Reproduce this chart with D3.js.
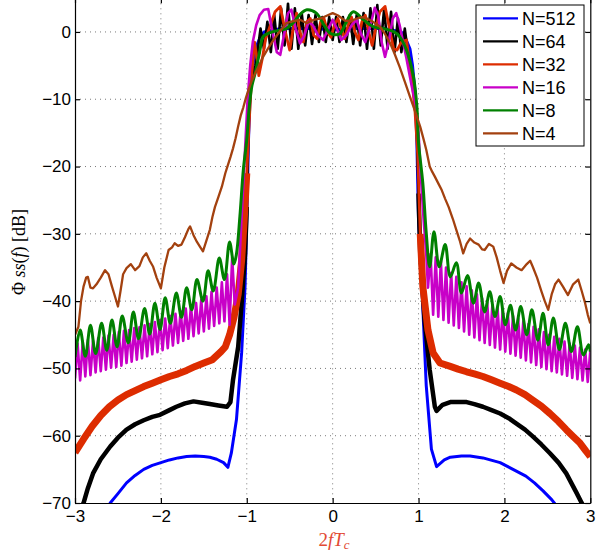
<!DOCTYPE html>
<html>
<head>
<meta charset="utf-8">
<script src="https://cdn.jsdelivr.net/npm/d3@7"></script>
<style>
  body { margin: 0; background: #fff; }
  svg { display: block; font-family: "Liberation Sans", Arial, sans-serif; }
  .grid line { stroke: #7a7a7a; stroke-width: 1; stroke-dasharray: 1,4; }
  .axis path, .axis line { stroke: #000; stroke-width: 1.2; }
  .axis text { font-size: 17px; fill: #000; }
</style>
</head>
<body>
<svg id="chart"></svg>
<script>
// ------------------------------------------------------------
// Power spectra of the spread signal for several values of N.
// Values as [2fTc, dB] pairs.
// ------------------------------------------------------------

const xTicks = [-3, -2, -1, 0, 1, 2, 3];
const yTicks = [-70, -60, -50, -40, -30, -20, -10, 0];
const seriesNames = ["N=512", "N=64", "N=32", "N=16", "N=8", "N=4"];
const seriesColors = ["#0000ff", "#000000", "#dd2c00", "#c800c8", "#008000", "#a3410f"];

const n512 = [
  [-2.63, -71], [-2.59, -70], [-2.5, -68.6], [-2.4, -67], [-2.3, -65.9], [-2.2, -65],
  [-2.1, -64.4], [-2.0, -64], [-1.9, -63.6], [-1.8, -63.3], [-1.7, -63.1], [-1.6, -63],
  [-1.5, -63.1], [-1.43, -63.2], [-1.35, -63.5], [-1.27, -64], [-1.22, -64.7],
  [-1.18, -62.6], [-1.12, -57.6], [-1.06, -47.7], [-1.02, -37.8], [-1.0, -28],
  [-0.98, -16], [-0.96, -9], [-0.93, -5], [-0.9, -2.5], [-0.85, -1], [-0.8, 0],
  [-0.6, 0.5], [-0.4, 0.5], [-0.2, 0.5], [0, 0.3], [0.2, 0.5], [0.4, 0.5], [0.6, 0.5],
  [0.8, 0], [0.85, -1], [0.9, -2.5], [0.93, -5], [0.96, -9], [0.98, -16], [1.0, -28],
  [1.04, -38], [1.09, -52.6], [1.15, -62], [1.21, -64.6], [1.3, -63.6], [1.37, -63.2],
  [1.5, -63], [1.6, -63], [1.75, -63.3], [1.95, -64], [2.1, -65], [2.25, -66],
  [2.35, -67], [2.45, -68.2], [2.55, -69.5], [2.6, -70.3], [2.63, -71]
];

const n64 = [
  [-2.95, -71], [-2.9, -70], [-2.85, -67.8], [-2.79, -65.6], [-2.7, -63.5], [-2.59, -61.6],
  [-2.5, -60.3], [-2.4, -59.1], [-2.3, -58.3], [-2.2, -57.7], [-2.1, -57.2], [-2.01, -56.9],
  [-1.9, -56.2], [-1.82, -55.7], [-1.72, -55.2], [-1.62, -54.9], [-1.52, -55.1],
  [-1.43, -55.3], [-1.33, -55.5], [-1.23, -55.7], [-1.19, -55], [-1.16, -51.7],
  [-1.1, -46.8], [-1.06, -40.3], [-1.02, -32.9], [-1.0, -26], [-0.98, -14], [-0.96, -9],
  [-0.93, -6.5], [-0.9, -5], [-0.88, -3.5], [-0.84, 0.5], [-0.8, -2.5], [-0.76, 1.5],
  [-0.72, -3], [-0.68, 2.5], [-0.64, -2.5], [-0.6, 3.5], [-0.56, -2], [-0.52, 4.2],
  [-0.48, -2.5], [-0.44, 3.5], [-0.4, -2.5], [-0.36, 2.8], [-0.32, -2], [-0.28, 2.5],
  [-0.24, -1.8], [-0.2, 2.5], [-0.16, -1.5], [-0.12, 2.2], [-0.08, -1.5], [-0.04, 2.2],
  [0, -1.2], [0.04, 2.2], [0.08, -1.5], [0.12, 2.2], [0.16, -1.5], [0.2, 2.5], [0.24, -1.8],
  [0.28, 2.5], [0.32, -2], [0.36, 2.8], [0.4, -2.5], [0.44, 3.5], [0.48, -2.5], [0.52, 4],
  [0.56, -2], [0.6, 3.5], [0.64, -2.5], [0.68, 3], [0.72, -3], [0.76, 2], [0.8, -3],
  [0.84, 0.5], [0.88, -3.5], [0.9, -5], [0.93, -6.5], [0.96, -9], [0.98, -14], [1.0, -24],
  [1.02, -32.9], [1.07, -42.8], [1.13, -50.2], [1.19, -55.7], [1.21, -56.3], [1.28, -55.4],
  [1.37, -55], [1.47, -55], [1.56, -55], [1.65, -55.3], [1.75, -55.7], [1.85, -56.2],
  [1.95, -56.7], [2.05, -57.4], [2.14, -58.2], [2.24, -59.1], [2.33, -60.1], [2.43, -61.3],
  [2.53, -62.6], [2.63, -64], [2.72, -65.6], [2.84, -68.5], [2.9, -70], [2.95, -71]
];

const n32 = [
  [-3, -62.5], [-2.9, -60.5], [-2.8, -58.6], [-2.7, -57], [-2.6, -55.7], [-2.5, -54.7],
  [-2.4, -53.9], [-2.3, -53.3], [-2.2, -52.7], [-2.1, -52.2], [-2.0, -51.7], [-1.9, -51.2],
  [-1.8, -50.8], [-1.7, -50.3], [-1.6, -49.7], [-1.5, -49.2], [-1.4, -48.7], [-1.3, -47.5],
  [-1.25, -46.8], [-1.2, -45], [-1.15, -42.5], [-1.1, -39], [-1.06, -34], [-1.03, -28],
  [-1.0, -21], [-0.97, -13], [-0.94, -6], [-0.91, -1.5], [-0.88, -4], [-0.86, -6.5],
  [-0.82, -4], [-0.78, -1], [-0.73, 0.8], [-0.67, 3], [-0.61, 3.8], [-0.55, 0], [-0.5, -2.7],
  [-0.46, 0.5], [-0.42, 2.8], [-0.38, 0], [-0.34, -1.5], [-0.3, 1.5], [-0.26, 2],
  [-0.22, -0.5], [-0.18, -1], [-0.14, 1.5], [-0.1, 2], [-0.06, 0], [-0.02, -0.8], [0.02, 1],
  [0.06, 2], [0.1, 0.5], [0.14, -1], [0.18, 1], [0.22, 2.2], [0.26, 0], [0.3, -1.2],
  [0.34, 1.5], [0.38, 2.5], [0.42, 0], [0.46, -2], [0.5, 0.5], [0.55, 3], [0.61, 3.8],
  [0.67, 0], [0.71, -2.5], [0.75, -2.7], [0.8, -1.5], [0.86, -1.2], [0.9, -5.2], [0.93, -8],
  [0.96, -12], [0.99, -18], [1.02, -30], [1.05, -37.8], [1.11, -44.3], [1.17, -47.7],
  [1.25, -49.2], [1.37, -49.7], [1.46, -50.1], [1.56, -50.5], [1.65, -50.8], [1.75, -51.2],
  [1.85, -51.7], [1.95, -52.2], [2.05, -52.7], [2.14, -53.2], [2.24, -53.9], [2.33, -54.7],
  [2.43, -55.6], [2.53, -56.7], [2.63, -57.9], [2.72, -59.1], [2.8, -60.1], [2.88, -61.1],
  [2.95, -62.3], [3.0, -63.1]
];

// N=16 side lobes: read every 0.03 in 2fTc (alternating trough / peak)
const n16LeftStart = -3.0;
const n16Left = [
  -51.5, -46.3, -51.8, -46.0, -51.2, -45.8, -51.0, -45.9, -50.6, -45.5, -50.4, -45.4,
  -50.2, -45.1, -49.9, -45.0, -49.8, -44.6, -49.6, -44.4, -49.2, -44.3, -49.0, -44.0,
  -48.7, -43.9, -48.5, -43.6, -48.2, -43.4, -47.9, -43.1, -47.6, -42.8, -47.3, -42.6,
  -47.0, -42.2, -46.6, -41.9, -46.2, -41.5, -45.9, -41.1, -45.6, -40.7, -45.2, -40.3,
  -44.8, -39.8, -44.5, -39.3, -44.1, -38.6, -43.7, -38.0, -43.3, -37.2, -43.0, -36.0,
  -43.5, -33.5, -40.5
];
const n16Main = [
  [-1.1, -38], [-1.07, -30], [-1.04, -22.5], [-1.02, -17.5], [-0.99, -10], [-0.96, -5],
  [-0.93, -1.5], [-0.89, 1], [-0.85, 2.5], [-0.8, 3.3], [-0.75, 3.4], [-0.7, 0], [-0.65, -3],
  [-0.61, -3.4], [-0.56, 0], [-0.52, 2.8], [-0.48, 3.3], [-0.43, 0.5], [-0.38, -1.7],
  [-0.33, -0.5], [-0.28, 1.5], [-0.23, 1], [-0.17, -0.5], [-0.11, -1.2], [-0.05, 0.5],
  [0, 1.8], [0.05, 0.5], [0.1, -1.2], [0.16, -0.5], [0.22, 1], [0.28, 1.8], [0.33, -0.3],
  [0.38, -1.5], [0.43, 0.5], [0.49, 3.6], [0.53, 2.5], [0.57, -1.5], [0.61, -3.7],
  [0.66, -1], [0.7, 2], [0.74, 2.8], [0.78, 1], [0.82, -1.5], [0.86, -4], [0.92, -8],
  [0.97, -11], [1.0, -15], [1.03, -22], [1.06, -28], [1.09, -33], [1.11, -38]
];
const n16RightStart = 1.14;
const n16Right = [
  -33.0, -42.0, -33.5, -42.3, -34.0, -42.8, -35.0, -43.2, -35.8, -43.6, -36.4, -44.0,
  -37.2, -44.5, -37.8, -45.0, -38.4, -45.4, -39.0, -45.8, -39.6, -46.2, -40.2, -46.5,
  -40.6, -46.9, -41.0, -47.2, -41.4, -47.5, -41.8, -47.8, -42.2, -48.1, -42.6, -48.4,
  -43.0, -48.8, -43.4, -49.1, -43.8, -49.5, -44.2, -49.8, -44.6, -50.1, -45.0, -50.4,
  -45.3, -50.6, -45.6, -50.9, -46.0, -51.1, -46.3, -51.4, -46.6, -51.6, -46.9, -51.8,
  -47.2, -52.0, -47.4
];
const n16Step = 0.03;

const n8 = [
  [-3.0, -48.3], [-2.94, -44.3], [-2.88, -48.2], [-2.82, -43.6], [-2.76, -47.8],
  [-2.69, -43.3], [-2.63, -47.3], [-2.57, -42.8], [-2.51, -46.8], [-2.45, -42.2],
  [-2.38, -46.2], [-2.32, -41.6], [-2.26, -45.6], [-2.19, -41.1], [-2.13, -44.9],
  [-2.07, -40.3], [-2.01, -44.2], [-1.95, -39.5], [-1.89, -43.3], [-1.82, -38.8],
  [-1.76, -42.4], [-1.7, -38.0], [-1.64, -41.3], [-1.58, -36.8], [-1.51, -40.0],
  [-1.45, -35.5], [-1.39, -38.5], [-1.32, -33.6], [-1.26, -36.8], [-1.2, -31.2],
  [-1.15, -34.5], [-1.12, -33], [-1.08, -27.4], [-1.04, -20.5], [-1.0, -16], [-0.97, -11],
  [-0.94, -8], [-0.9, -6], [-0.85, -3], [-0.81, -0.7], [-0.75, -0.2], [-0.69, 0.05],
  [-0.6, 0.3], [-0.54, 0.5], [-0.45, 1.5], [-0.38, 2.6], [-0.3, 3.3], [-0.19, 2.8],
  [-0.1, 1], [-0.03, -0.2], [0.04, -0.4], [0.09, -0.2], [0.16, 1.5], [0.24, 3.0],
  [0.36, 1.8], [0.47, 0.8], [0.59, 0.5], [0.71, 0.05], [0.78, -0.7], [0.86, -2.7],
  [0.94, -6.6], [0.98, -11], [1.0, -16.5], [1.05, -22.5], [1.09, -29.9], [1.13, -34.9],
  [1.18, -29.7], [1.24, -34.9], [1.31, -31.6], [1.37, -36.4], [1.44, -34.3], [1.5, -38.8],
  [1.57, -36.2], [1.64, -40.3], [1.7, -37.3], [1.77, -41.6], [1.83, -38.6], [1.89, -42.3],
  [1.95, -39.3], [2.01, -43.5], [2.07, -40.6], [2.13, -44.3], [2.19, -40.8], [2.26, -45],
  [2.32, -41.3], [2.39, -45.8], [2.45, -41.8], [2.51, -46.5], [2.57, -42.5], [2.64, -47.2],
  [2.71, -43.3], [2.78, -47.5], [2.85, -43.8], [2.92, -48], [2.98, -46.5], [3.0, -47.5]
];

const n4 = [
  [-3.0, -45], [-2.96, -43.8], [-2.93, -40], [-2.9, -37.8], [-2.87, -36.5], [-2.85, -36.4],
  [-2.82, -38], [-2.79, -38.1], [-2.75, -37.5], [-2.7, -36.5], [-2.65, -35.4], [-2.61, -36],
  [-2.57, -37.8], [-2.53, -39.5], [-2.5, -40.8], [-2.47, -38.5], [-2.44, -36], [-2.4, -35.1],
  [-2.35, -34.5], [-2.3, -35.4], [-2.25, -34.8], [-2.21, -33.5], [-2.17, -32.9], [-2.13, -34],
  [-2.09, -34.9], [-2.05, -36.5], [-2.0, -38.1], [-1.96, -35], [-1.91, -32.4], [-1.87, -32],
  [-1.84, -31.4], [-1.8, -31.8], [-1.76, -31.6], [-1.72, -30.5], [-1.68, -29.3],
  [-1.66, -28.9], [-1.62, -30.2], [-1.58, -31.2], [-1.54, -32], [-1.51, -32.6], [-1.47, -31],
  [-1.43, -29.4], [-1.4, -27.5], [-1.37, -26], [-1.33, -24.5], [-1.29, -23], [-1.25, -21],
  [-1.22, -19.8], [-1.19, -18.6], [-1.16, -17.3], [-1.13, -15.8], [-1.1, -14], [-1.07, -12.4],
  [-1.04, -11.2], [-1.01, -9.8], [-0.98, -8.6], [-0.94, -7.2], [-0.9, -6.1], [-0.85, -4.8],
  [-0.81, -3.7], [-0.75, -2.4], [-0.69, -1.2], [-0.62, 0], [-0.54, 1.3], [-0.46, 1.6],
  [-0.38, 1.8], [-0.3, 1.3], [-0.22, 1.8], [-0.14, 2], [-0.07, 2.4], [0, 2.8], [0.07, 2.4],
  [0.14, 1.7], [0.21, 1.6], [0.28, 2.0], [0.34, 2.2], [0.4, 2], [0.47, 1.5], [0.55, 0.8],
  [0.61, -0.3], [0.67, -1.7], [0.72, -3.2], [0.78, -5.2], [0.84, -7.4], [0.9, -9.6],
  [0.96, -11.8], [1.02, -14.1], [1.06, -16], [1.09, -17.5], [1.13, -20], [1.16, -20.8],
  [1.19, -21.5], [1.23, -22.5], [1.27, -23.5], [1.31, -24.8], [1.35, -26], [1.4, -27.8],
  [1.44, -29.4], [1.48, -31], [1.52, -32.9], [1.56, -31.5], [1.6, -30.7], [1.65, -31.3],
  [1.7, -31.6], [1.74, -32.3], [1.77, -32.4], [1.82, -31.5], [1.87, -31.9], [1.91, -33.5],
  [1.95, -35.5], [1.99, -37.3], [2.03, -35.5], [2.08, -34.4], [2.14, -35], [2.2, -35.4],
  [2.26, -34.5], [2.3, -34], [2.33, -34.9], [2.38, -36.5], [2.43, -38.5], [2.47, -40],
  [2.51, -41.3], [2.55, -39], [2.59, -37.5], [2.63, -36.8], [2.68, -37.8], [2.74, -39.1],
  [2.8, -37.5], [2.86, -36.8], [2.9, -38.5], [2.94, -40.3], [2.97, -42], [3.0, -43.3]
];

// ------------------------------------------------------------
// Layout
// ------------------------------------------------------------
const width = 608;
const height = 554;
const pLeft = 75, pRight = 590.3, pTop = -1.7, pBottom = 503;

const svg = d3.select("#chart")
  .attr("width", width)
  .attr("height", height);

const x = d3.scaleLinear().domain([-3, 3]).range([pLeft, pRight]);
const y = d3.scaleLinear().domain([-70, 5]).range([pBottom, pTop]);

// Join the N=16 pieces into one list of points.
const n16 = n16Left.map((v, i) => [n16LeftStart + i * n16Step, v])
  .concat(n16Main)
  .concat(n16Right.map((v, i) => [n16RightStart + i * n16Step, v]));

// Dotted grid.
const grid = svg.append("g").attr("class", "grid");
grid.selectAll(".gx")
  .data(xTicks.slice(1, -1))
  .enter().append("line")
  .attr("x1", d => x(d)).attr("x2", d => x(d))
  .attr("y1", pTop).attr("y2", pBottom);
grid.selectAll(".gy")
  .data(yTicks.slice(1))
  .enter().append("line")
  .attr("x1", pLeft).attr("x2", pRight)
  .attr("y1", d => y(d)).attr("y2", d => y(d));

// Clip the curves to the plot box.
svg.append("clipPath").attr("id", "plotClip")
  .append("rect")
  .attr("x", pLeft).attr("y", pTop)
  .attr("width", pRight - pLeft).attr("height", pBottom - pTop);

const plot = svg.append("g").attr("clip-path", "url(#plotClip)");

const straight = d3.line().x(d => x(d[0])).y(d => y(d[1]));
const smooth = d3.line().x(d => x(d[0])).y(d => y(d[1])).curve(d3.curveCatmullRom);

// The noisy curves are wider in the side lobes than in the main lobe,
// so their side lobes get a second, thicker stroke.
const leftLobe = d => d.filter(p => p[0] <= -1.0);
const rightLobe = d => d.filter(p => p[0] >= 1.0);

// Drawn from N=512 up to N=4 so that N=4 lies on top.
const curves = [
  { data: n512, color: seriesColors[0], w: 3, lobeW: 0, line: straight },
  { data: n64, color: seriesColors[1], w: 2.6, lobeW: 4.5, line: straight },
  { data: n32, color: seriesColors[2], w: 2.8, lobeW: 7, line: straight },
  { data: n16, color: seriesColors[3], w: 2.6, lobeW: 0, line: straight },
  { data: n8, color: seriesColors[4], w: 3, lobeW: 0, line: smooth },
  { data: n4, color: seriesColors[5], w: 2.3, lobeW: 0, line: straight }
];

curves.forEach(c => {
  const parts = [{ pts: c.data, w: c.w }];
  if (c.lobeW > 0) {
    parts.push({ pts: leftLobe(c.data), w: c.lobeW });
    parts.push({ pts: rightLobe(c.data), w: c.lobeW });
  }
  parts.forEach(p => {
    plot.append("path")
      .attr("d", c.line(p.pts))
      .attr("fill", "none")
      .attr("stroke", c.color)
      .attr("stroke-width", p.w)
      .attr("stroke-linejoin", "round");
  });
});

// Axes with inward ticks on all four sides.
const fmt = d3.format("d");
svg.append("g").attr("class", "axis")
  .attr("transform", `translate(0,${pBottom})`)
  .call(d3.axisBottom(x).tickValues(xTicks).tickFormat(fmt)
    .tickSize(-5).tickSizeOuter(0).tickPadding(7));
svg.append("g").attr("class", "axis")
  .attr("transform", `translate(${pLeft},0)`)
  .call(d3.axisLeft(y).tickValues(yTicks).tickFormat(fmt)
    .tickSize(-5).tickSizeOuter(0).tickPadding(4));
svg.append("g").attr("class", "axis")
  .attr("transform", `translate(0,${pTop})`)
  .call(d3.axisTop(x).tickValues(xTicks).tickSize(-5).tickSizeOuter(0).tickFormat(""));
svg.append("g").attr("class", "axis")
  .attr("transform", `translate(${pRight},0)`)
  .call(d3.axisRight(y).tickValues(yTicks).tickSize(-5).tickSizeOuter(0).tickFormat(""));

// Axis labels.
const xLabel = svg.append("text")
  .attr("x", 334).attr("y", 546)
  .attr("text-anchor", "middle")
  .attr("font-family", "'Liberation Serif', serif")
  .attr("font-size", 19)
  .attr("fill", "#e24a33");
xLabel.append("tspan").text("2");
xLabel.append("tspan").attr("font-style", "italic").text("fT");
xLabel.append("tspan").attr("font-style", "italic").attr("font-size", 13)
  .attr("dy", 3).text("c");

const yLabel = svg.append("text")
  .attr("transform", "translate(25,252) rotate(-90)")
  .attr("text-anchor", "middle")
  .attr("font-family", "'Liberation Serif', serif")
  .attr("font-size", 18)
  .attr("fill", "#000");
yLabel.append("tspan").text("Φ ");
yLabel.append("tspan").attr("font-style", "italic").text("ss");
yLabel.append("tspan").text("(");
yLabel.append("tspan").attr("font-style", "italic").text("f");
yLabel.append("tspan").text(") [dB]");

// Legend box.
const legend = svg.append("g").attr("transform", "translate(476,5)");
legend.append("rect")
  .attr("width", 108).attr("height", 141)
  .attr("fill", "#fff").attr("stroke", "#000").attr("stroke-width", 1);

const rows = legend.selectAll(".row")
  .data(seriesNames)
  .enter().append("g")
  .attr("transform", (d, i) => `translate(0,${13.3 + i * 23})`);
rows.append("line")
  .attr("x1", 7).attr("x2", 42)
  .attr("stroke", (d, i) => seriesColors[i])
  .attr("stroke-width", 2.2);
rows.append("text")
  .attr("x", 46).attr("dy", "0.36em")
  .attr("font-size", 18)
  .text(d => d);
</script>
</body>
</html>
